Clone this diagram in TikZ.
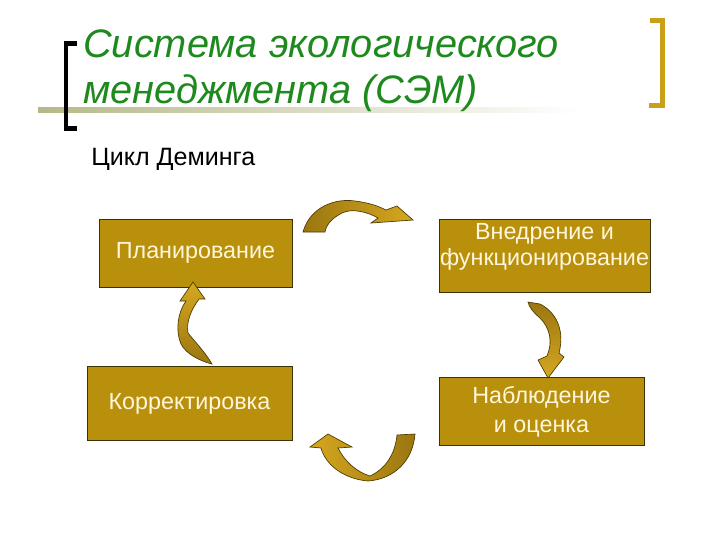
\documentclass[tikz,border=0pt]{standalone}
\usepackage{fontspec}
\setmainfont{Liberation Sans}
\begin{document}
\begin{tikzpicture}[x=0.75pt,y=-0.75pt,
  box/.style={draw=boxline,line width=0.6pt,fill=boxfill,inner sep=0pt},
  boxlabel/.style={text=boxtext,font=\fontsize{17.5}{21}\selectfont,align=center,inner sep=0pt},
  arrowline/.style={draw=arrline,line width=0.5pt},
  ttl/.style={font=\fontsize{29.8}{34}\itshape,anchor=base west,inner sep=0pt,text=titlegreen}]
\definecolor{boxfill}{HTML}{B8900C}
\definecolor{boxline}{HTML}{3C3200}
\definecolor{boxtext}{HTML}{FFF6DC}
\definecolor{arrline}{HTML}{4A3A00}
\definecolor{titlegreen}{HTML}{1E8A1E}
\definecolor{goldbr}{HTML}{C9A018}
\definecolor{sage}{HTML}{B6B888}
\definecolor{argold}{HTML}{D6A820}
\definecolor{ardark}{HTML}{9A7610}
\useasboundingbox (0,0) rectangle (720,540);
\fill[white] (0,0) rectangle (720,540);

% title underline
\shade[left color=sage,right color=white] (38,107.5) rectangle (580,112);
% brackets
\draw[line width=3.7pt,black] (77,43.5) -- (66,43.5) -- (66,128.5) -- (77,128.5);
\draw[line width=3.7pt,goldbr] (650,20.5) -- (662.5,20.5) -- (662.5,105.5) -- (649,105.5);

% title
\node[ttl] (t1) at (83,57) {Система экологического};
\node[ttl] (t2) at (83,103) {менеджмента (СЭМ)};

\node[anchor=base west,inner sep=0pt,font=\fontsize{18.8}{22}\selectfont] (sub) at (91,165) {Цикл Деминга};

% boxes
\node[box,minimum width=144.75pt,minimum height=51pt] (plan) at (195.5,253) {};
\node[box,minimum width=153.75pt,minimum height=55.5pt] (korr) at (189.5,403) {};
\node[box,minimum width=158.25pt,minimum height=54.75pt] (vned) at (544.5,255.5) {};
\node[box,minimum width=153.75pt,minimum height=51pt] (nabl) at (541.5,411) {};
\node[boxlabel] (tplan) at (plan.center) {Планирование};
\node[boxlabel] (tkorr) at (189.5,404) {Корректировка};
\node[boxlabel] (tvned) at (544.5,247) {Внедрение и\\[-1pt]функционирование};
\node[boxlabel] (tnabl) at (541.5,412) {Наблюдение\\[1pt]и оценка};

% top arrow
\shade[left color=ardark,right color=argold,arrowline]
  (303,232) .. controls (310,207) and (335,198) .. (355,201)
  .. controls (370,203) and (378,206) .. (386,210)
  -- (397,206) -- (413,220) -- (371,223) -- (378,218)
  .. controls (368,212) and (352,208) .. (342,213)
  .. controls (332,218) and (326,225) .. (325,232) -- cycle;
% left arrow
\shade[top color=argold,bottom color=ardark,arrowline]
  (193,282) -- (205,299) -- (199,299)
  .. controls (191,310) and (186,322) .. (188,333)
  .. controls (196,343) and (205,352) .. (212,364)
  .. controls (200,361) and (186,354) .. (181,344)
  .. controls (175,330) and (178,312) .. (186,301)
  -- (180,301) -- cycle;
% right arrow
\shade[top color=ardark,bottom color=argold,arrowline]
  (528,302) -- (540,304)
  .. controls (556,312) and (565,330) .. (559,353)
  -- (564,357) -- (548,378) -- (538,360) -- (547,356)
  .. controls (553,342) and (550,328) .. (540,318)
  .. controls (533,312) and (529,307) .. (528,302) -- cycle;
% bottom arrow
\shade[left color=argold,right color=ardark,arrowline]
  (415,434) .. controls (413,460) and (395,479) .. (368,481)
  .. controls (345,479) and (326,466) .. (321,448)
  -- (310,447) -- (328,434) -- (352,447) -- (338,448)
  .. controls (345,462) and (357,472) .. (370,476)
  .. controls (385,469) and (395,455) .. (397,435) -- cycle;
\end{tikzpicture}
\end{document}
